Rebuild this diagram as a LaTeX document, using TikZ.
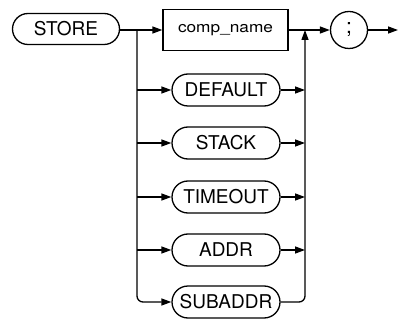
\documentclass[tikz,border=0pt]{standalone}
\usepackage{fontspec}
\setmainfont{TeX Gyre Heros}
\usetikzlibrary{arrows.meta,shapes.misc}
\begin{document}
\begin{tikzpicture}[x=1pt,y=-1pt,
  line width=1.3pt,
  arr/.style={-{Triangle[length=10pt,width=7pt]}},
  pill/.style={draw,rounded rectangle,minimum width=108pt,minimum height=32pt,inner sep=0pt,font=\fontsize{19}{19}\selectfont},
  boxn/.style={draw,rectangle,minimum width=125pt,minimum height=41pt,inner sep=0pt,font=\fontsize{15}{15}\selectfont},
  circn/.style={draw,circle,minimum size=37pt,inner sep=0pt,font=\fontsize{21}{21}\selectfont}]
\useasboundingbox (0,0) rectangle (398,320);
\node[pill,minimum width=107pt,minimum height=31pt] (store) at (66,29) {STORE};
\node[boxn] (comp) at (225.5,30) {\scalebox{1.15}[1]{comp\_name}};
\node[circn] (semi) at (349,30) {;};
\node[pill] (def) at (226,90) {DEFAULT};
\node[pill] (stack) at (226,143) {STACK};
\node[pill] (tout) at (226,197) {TIMEOUT};
\node[pill] (addr) at (226,250) {ADDR};
\node[pill] (sub) at (226,302) {SUBADDR};
\coordinate (jl) at (137,30);
\coordinate (jr) at (305,30);
\coordinate (out) at (398,30);
\draw[arr] (store.east |- jl) -- (comp.west |- jl);
\draw[arr] (comp.east |- jr) -- (semi.west);
\draw[arr] (semi.east) -- (out);
\draw[arr,rounded corners=6pt] (jl) |- (sub.west);
\foreach \n in {def,stack,tout,addr}{
  \draw[arr] (jl |- \n.west) -- (\n.west);
  \draw[arr] (\n.east) -- (jr |- \n.east);
}
\draw[arr,rounded corners=6pt] (sub.east) -| (jr);
\end{tikzpicture}
\end{document}
